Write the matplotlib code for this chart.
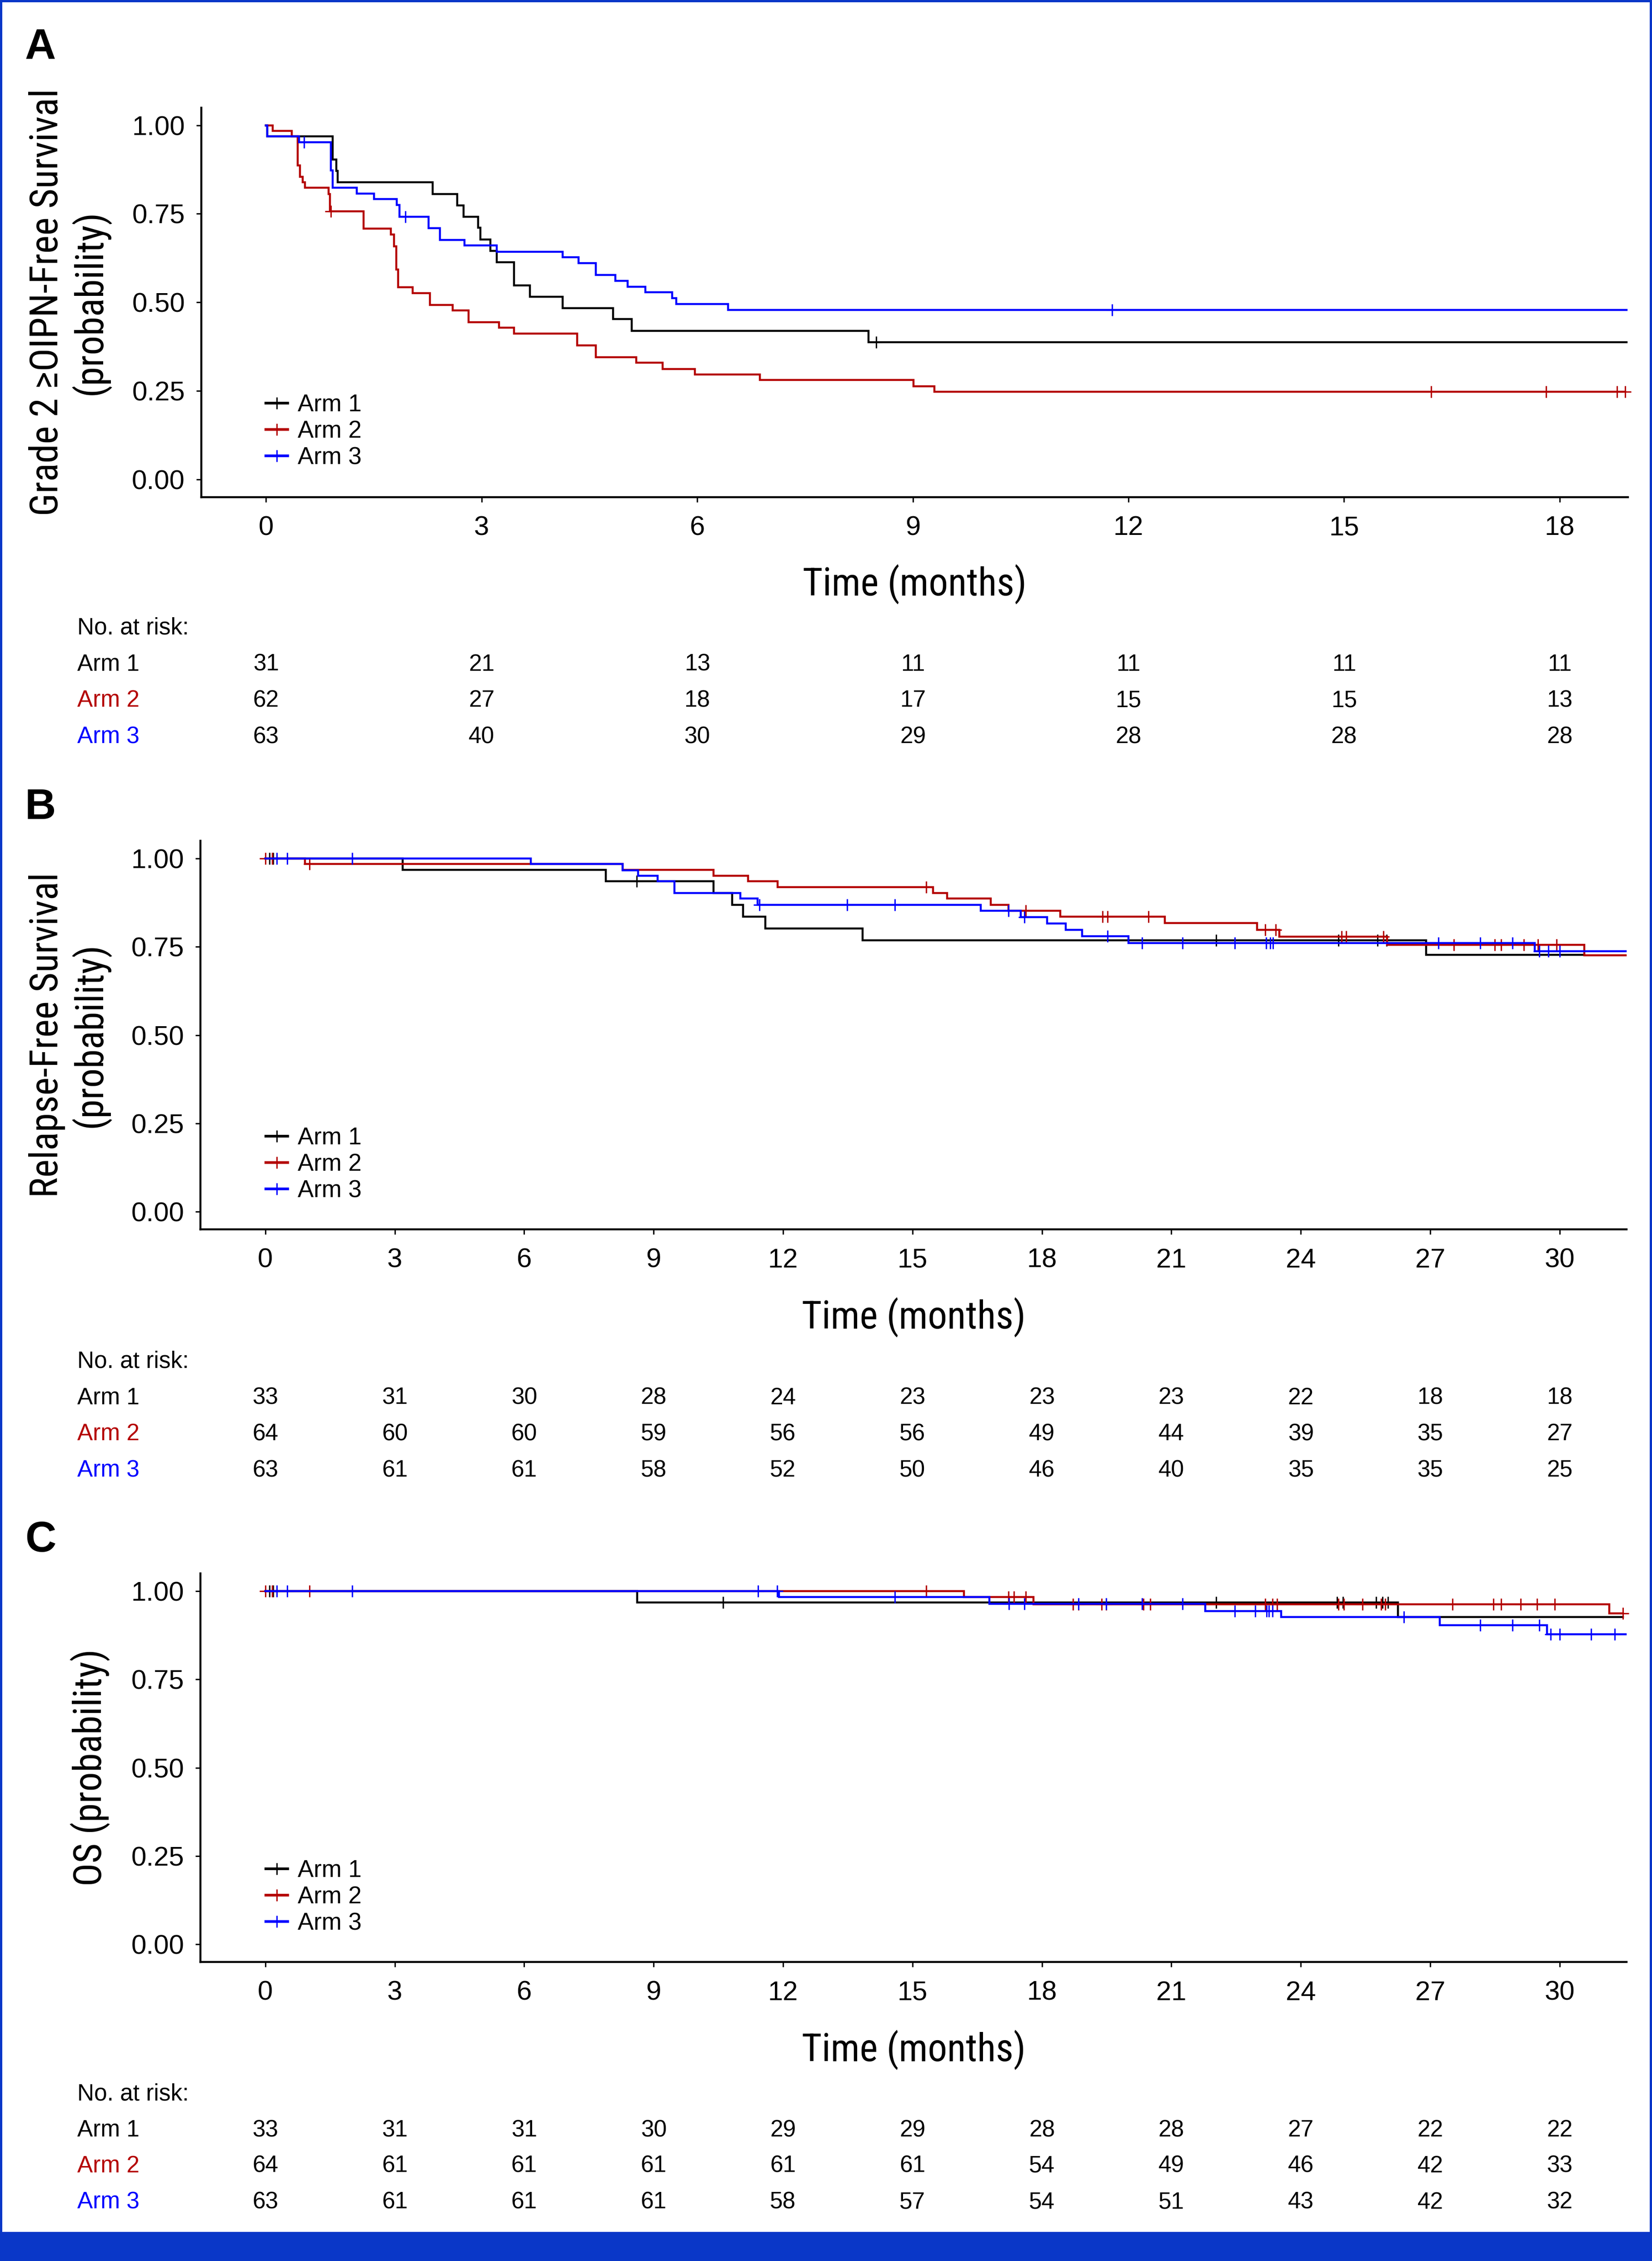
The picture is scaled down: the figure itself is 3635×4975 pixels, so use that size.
import numpy as np
import matplotlib
matplotlib.use("Agg")
import matplotlib.pyplot as plt
from matplotlib import font_manager as fm
from matplotlib.lines import Line2D
from matplotlib.patches import Rectangle
from matplotlib.transforms import blended_transform_factory

# ---------------------------------------------------------------- data
arm_names = ["Arm 1", "Arm 2", "Arm 3"]
arm_colors = ["#000000", "#b40000", "#0000ff"]

# Panel A: Grade 2 >= OIPN-free survival
a1_t = [0, 0.02, 0.93, 0.98, 1.00, 2.32, 2.66, 2.75, 2.95, 2.98, 3.12, 3.21, 3.45, 3.67, 4.13, 4.83, 5.09, 8.38]
a1_s = [1.0, 0.968, 0.903, 0.871, 0.839, 0.806, 0.774, 0.742, 0.710, 0.677, 0.645, 0.613, 0.548, 0.516, 0.484, 0.452, 0.419, 0.387]
a1_c = [8.49]
a2_t = [0, 0.09, 0.36, 0.44, 0.47, 0.51, 0.54, 0.87, 0.89, 1.355, 1.74, 1.78, 1.81, 1.84, 2.04, 2.28, 2.60, 2.82,
        3.24, 3.45, 4.33, 4.59, 5.15, 5.52, 5.97, 6.87, 9.01, 9.30]
a2_s = [1.0, 0.984, 0.968, 0.887, 0.855, 0.839, 0.823, 0.806, 0.757, 0.708, 0.691, 0.658, 0.592, 0.543, 0.526, 0.493,
        0.477, 0.444, 0.428, 0.411, 0.378, 0.345, 0.329, 0.312, 0.296, 0.280, 0.263, 0.247]
a2_c = [0.90, 16.21, 17.81, 18.80, 18.91]
a3_t = [0, 0.02, 0.46, 0.90, 0.93, 1.26, 1.50, 1.82, 1.86, 2.26, 2.42, 2.76, 3.21, 4.13, 4.35, 4.59, 4.86, 5.03,
        5.28, 5.65, 5.71, 6.43]
a3_s = [1.0, 0.968, 0.952, 0.872, 0.823, 0.807, 0.791, 0.775, 0.742, 0.709, 0.676, 0.660, 0.643, 0.627, 0.610,
        0.577, 0.561, 0.544, 0.528, 0.511, 0.495, 0.478]
a3_c = [0.53, 1.94, 11.77]
a_end = [18.93, 18.91, 18.93]
a_ticks = [0, 3, 6, 9, 12, 15, 18]
a_risk = [[31, 21, 13, 11, 11, 11, 11],
          [62, 27, 18, 17, 15, 15, 13],
          [63, 40, 30, 29, 28, 28, 28]]

# Panel B: relapse-free survival
b1_t = [0, 3.18, 7.89, 10.39, 10.82, 11.07, 11.59, 13.84, 26.90]
b1_s = [1.0, 0.968, 0.935, 0.902, 0.869, 0.835, 0.802, 0.768, 0.727]
b1_c = [0.10, 0.18, 8.61, 22.04, 24.87, 25.78, 25.99]
b2_t = [0, 0.92, 8.28, 10.39, 11.19, 11.87, 15.48, 15.80, 16.81, 17.22, 18.42, 20.85, 22.99, 23.50, 26.00, 30.57]
b2_s = [1.0, 0.984, 0.968, 0.951, 0.935, 0.919, 0.902, 0.886, 0.869, 0.852, 0.835, 0.817, 0.798, 0.778, 0.756, 0.726]
b2_c = [0.0, 0.16, 1.02, 15.32, 17.62, 19.41, 19.52, 20.47, 23.18, 23.42, 24.95, 25.05, 25.91,
        27.55, 28.50, 28.64, 29.17, 29.50, 29.93]
b3_t = [0, 6.15, 8.28, 8.64, 9.09, 9.48, 11.01, 11.41, 16.58, 17.51, 18.12, 18.55, 18.93, 20.00, 29.42]
b3_s = [1.0, 0.984, 0.967, 0.951, 0.935, 0.902, 0.886, 0.869, 0.852, 0.834, 0.816, 0.798, 0.780, 0.761, 0.738]
b3_c = [0.27, 0.51, 2.01, 11.45, 13.48, 14.59, 17.22, 17.59, 19.52, 20.32, 21.26, 22.47, 23.20, 23.29, 23.36,
        27.19, 28.16, 28.91, 29.53, 29.74, 30.00]
b_end = [30.57, 31.53, 31.53]
b_ticks = [0, 3, 6, 9, 12, 15, 18, 21, 24, 27, 30]
b_risk = [[33, 31, 30, 28, 24, 23, 23, 23, 22, 18, 18],
          [64, 60, 60, 59, 56, 56, 49, 44, 39, 35, 27],
          [63, 61, 61, 58, 52, 50, 46, 40, 35, 35, 25]]

# Panel C: overall survival
c1_t = [0, 8.62, 26.25]
c1_s = [1.0, 0.968, 0.926]
c1_c = [0.10, 0.18, 10.61, 17.24, 22.04, 24.84, 24.98, 25.75, 25.89, 26.02]
c2_t = [0, 16.19, 17.80, 31.15]
c2_s = [1.0, 0.983, 0.963, 0.937]
c2_c = [0.0, 0.16, 1.02, 15.32, 17.22, 17.35, 17.62, 18.72, 18.85, 19.38, 19.49, 20.35, 20.51, 23.18, 23.34,
        23.45, 24.87, 25.00, 25.43, 25.86, 25.96, 27.52, 28.46, 28.64, 29.10, 29.47, 29.89, 31.47]
c3_t = [0, 11.90, 16.78, 21.79, 23.54, 27.22, 29.71]
c3_s = [1.0, 0.983, 0.964, 0.943, 0.927, 0.903, 0.877]
c3_c = [0.27, 0.51, 2.01, 11.42, 11.86, 14.59, 17.24, 17.59, 18.85, 19.49, 20.32, 21.26, 22.47, 22.94, 23.21,
        23.26, 23.34, 26.39, 28.16, 28.91, 29.53, 29.79, 30.00, 30.73, 31.28]
c_end = [31.47, 31.47, 31.53]
c_ticks = b_ticks
c_risk = [[33, 31, 31, 30, 29, 29, 28, 28, 27, 22, 22],
          [64, 61, 61, 61, 61, 61, 54, 49, 46, 42, 33],
          [63, 61, 61, 61, 58, 57, 54, 51, 43, 42, 32]]

y_ticks = [0.0, 0.25, 0.50, 0.75, 1.00]
y_ticklabels = ["0.00", "0.25", "0.50", "0.75", "1.00"]
x_title = "Time (months)"
risk_title = "No. at risk:"

# ---------------------------------------------------------------- fonts
REG = ["Liberation Sans", "DejaVu Sans"]
plt.rcParams["font.family"] = REG
faces = [(f.name, f.stretch) for f in fm.fontManager.ttflist]
names = {n for n, _ in faces}

def has_face(name, stretches):
    return any(n == name and str(s) in stretches for n, s in faces)

if "Liberation Sans Narrow" in names:
    NARROW = dict(family=["Liberation Sans Narrow", "DejaVu Sans"])
    nscale = 1.0
elif has_face("Noto Sans", ("condensed", "300")):
    NARROW = dict(family=["Noto Sans", "DejaVu Sans"], stretch="condensed")
    nscale = 0.97
elif "Roboto Condensed" in names:
    NARROW = dict(family=["Roboto Condensed", "DejaVu Sans"])
    nscale = 0.97
elif has_face("Open Sans", ("condensed", "300")):
    NARROW = dict(family=["Open Sans", "DejaVu Sans"], stretch="condensed")
    nscale = 0.95
else:
    NARROW = dict(family=REG)
    nscale = 0.84

# ---------------------------------------------------------------- figure
W, H = 3635, 4975
fig = plt.figure(figsize=(W / 100, H / 100), dpi=100)
fig.patch.set_facecolor("white")

def fy(y_px):
    return 1 - y_px / H

def fx(x_px):
    return x_px / W

LW = 3.2
MS = 19
MEW = 2.2

panels = [
    dict(letter="A", ylabel=["Grade 2 \u2265OIPN-Free Survival", "(probability)"],
         curves=[(a1_t, a1_s, a1_c), (a2_t, a2_s, a2_c), (a3_t, a3_s, a3_c)], ends=a_end,
         ticks=a_ticks, risk=a_risk, xlim=(-0.9, 18.95),
         box=(443, 236.6, 3582, 1093.5), letter_y=130, xlab_y=1310,
         risk_y=[1396, 1476, 1555, 1635], leg_y=888),
    dict(letter="B", ylabel=["Relapse-Free Survival", "(probability)"],
         curves=[(b1_t, b1_s, b1_c), (b2_t, b2_s, b2_c), (b3_t, b3_s, b3_c)], ends=b_end,
         ticks=b_ticks, risk=b_risk, xlim=(-1.5, 31.55),
         box=(441.4, 1850, 3579, 2705), letter_y=1802, xlab_y=2923,
         risk_y=[3010, 3090, 3169, 3249], leg_y=2501),
    dict(letter="C", ylabel=["OS (probability)"],
         curves=[(c1_t, c1_s, c1_c), (c2_t, c2_s, c2_c), (c3_t, c3_s, c3_c)], ends=c_end,
         ticks=c_ticks, risk=c_risk, xlim=(-1.5, 31.55),
         box=(441.4, 3462, 3579, 4317), letter_y=3414, xlab_y=4535,
         risk_y=[4621, 4701, 4780, 4860], leg_y=4113),
]

for p in panels:
    x0, yt, x1, yb = p["box"]
    ax = fig.add_axes([fx(x0), fy(yb), fx(x1 - x0), (yb - yt) / H])
    ax.set_xlim(*p["xlim"])
    ax.set_ylim(-0.05, 1.05)
    for sp in ("top", "right"):
        ax.spines[sp].set_visible(False)
    for sp in ("left", "bottom"):
        ax.spines[sp].set_linewidth(3.2)
        ax.spines[sp].set_color("black")
    ax.set_xticks(p["ticks"])
    ax.set_xticklabels([str(t) for t in p["ticks"]])
    ax.set_yticks(y_ticks)
    ax.set_yticklabels(y_ticklabels)
    ax.tick_params(axis="both", direction="out", length=8, width=2.2, labelsize=43,
                   color="black", labelcolor="black")
    ax.tick_params(axis="x", pad=21.5)
    ax.tick_params(axis="y", pad=18)

    for i, (t, s, c) in enumerate(p["curves"]):
        tt = np.append(np.asarray(t, float), p["ends"][i])
        ss = np.append(np.asarray(s, float), s[-1])
        ax.step(tt, ss, where="post", color=arm_colors[i], lw=LW, zorder=3 + i,
                solid_joinstyle="miter", clip_on=False)
        cc = np.asarray(c, float)
        idx = np.searchsorted(np.asarray(t, float), cc, side="right") - 1
        cy = np.asarray(s, float)[idx]
        ax.plot(cc, cy, ls="none", marker="+", ms=MS, mew=MEW, color=arm_colors[i],
                zorder=3 + i, clip_on=False)

    handles = [Line2D([], [], color=arm_colors[i], lw=LW + 1, marker="+", ms=MS, mew=MEW)
               for i in range(3)]
    leg_top = p["leg_y"] - 22
    ax.legend(handles, arm_names, loc="upper left", bbox_to_anchor=(fx(585), fy(leg_top)),
              bbox_transform=fig.transFigure, frameon=False, fontsize=38, handlelength=0.9,
              handletextpad=0.42, labelspacing=0.16, borderpad=0, borderaxespad=0, numpoints=1)

    # panel letter
    fig.text(fx(55), fy(p["letter_y"]), p["letter"], fontsize=68, fontweight="bold",
             family=REG, ha="left", va="baseline")
    # y axis title
    yc = fy((yt + yb) / 2)
    lines = p["ylabel"]
    xs = [127, 223] if len(lines) == 2 else [223]
    for txt, xp in zip(lines, xs):
        fig.text(fx(xp), yc, txt, rotation=90, rotation_mode="anchor", ha="center", va="baseline",
                 fontsize=63 * nscale, **NARROW)
    # x axis title
    fig.text(fx((x0 + x1) / 2), fy(p["xlab_y"]), x_title, ha="center", va="baseline",
             fontsize=63 * nscale, **NARROW)
    # risk table
    fig.text(fx(170), fy(p["risk_y"][0]), risk_title, ha="left", va="baseline", fontsize=37)
    tr = blended_transform_factory(ax.transData, fig.transFigure)
    for i in range(3):
        yy = fy(p["risk_y"][i + 1])
        fig.text(fx(170), yy, arm_names[i], ha="left", va="baseline", fontsize=37,
                 color=arm_colors[i])
        for tk, n in zip(p["ticks"], p["risk"][i]):
            ax.text(tk, yy, str(n), transform=tr, ha="center", va="baseline", fontsize=37,
                    color="black", clip_on=False)

# blue frame and bottom band
BLUE = "#0a37c8"
for (x, y, w, h) in [(0, 0, 5, H), (0, 0, W, 5), (W - 5, 0, 5, H), (0, 4911, W, H - 4911)]:
    fig.patches.append(Rectangle((fx(x), fy(y + h)), w / W, h / H, transform=fig.transFigure,
                                 facecolor=BLUE, edgecolor="none", zorder=10))

fig.savefig("out.png", dpi=100, facecolor="white")
